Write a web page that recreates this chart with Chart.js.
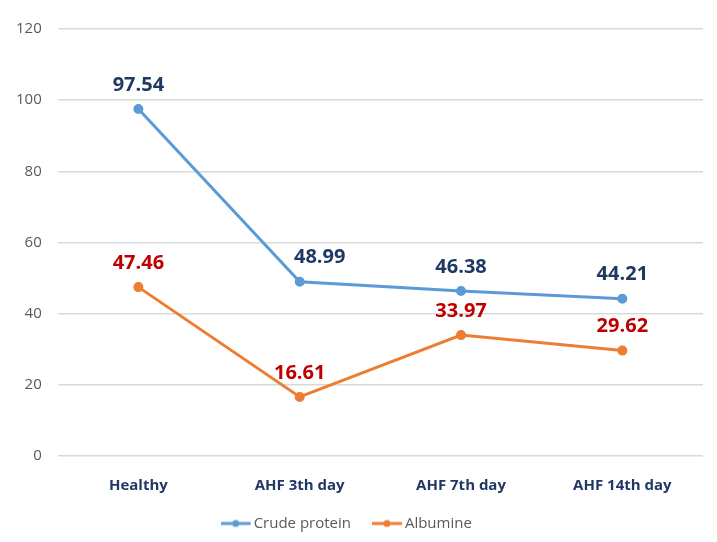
<!DOCTYPE html>
<html>
<head>
<meta charset="utf-8">
<script src="https://cdn.jsdelivr.net/npm/chart.js@4.4.1/dist/chart.umd.min.js"></script>
<style>
  html, body { margin: 0; padding: 0; background: #fff; }
  #wrap { width: 717px; height: 542px; }
</style>
</head>
<body>
<div id="wrap"><canvas id="chart" width="717" height="542"></canvas></div>
<script>
const categories = ['Healthy', 'AHF 3th day', 'AHF 7th day', 'AHF 14th day'];
const crudeProtein = [97.54, 48.99, 46.38, 44.21];
const albumine = [47.46, 16.61, 33.97, 29.62];
const yTicks = [0, 20, 40, 60, 80, 100, 120];

// small line + dot marker for the legend (blank strip on the right = gap before text)
function legendMarker(color) {
    let c = document.createElement('canvas');
    c.width = 36; c.height = 10;
    let g = c.getContext('2d');
    g.strokeStyle = color;
    g.lineWidth = 3;
    g.beginPath(); g.moveTo(0, 5); g.lineTo(30, 5); g.stroke();
    g.fillStyle = color;
    g.beginPath(); g.arc(15, 5, 3.5, 0, Math.PI * 2); g.fill();
    return c;
}

// value labels above every point
const pointLabels = {
    id: 'pointLabels',
    afterDatasetsDraw(chart) {
        let ctx = chart.ctx;
        ctx.save();
        ctx.font = 'bold 20px "Open Sans", sans-serif';
        ctx.textAlign = 'center';
        ctx.textBaseline = 'middle';
        chart.data.datasets.forEach(function (ds, i) {
            let shift = ds.labelShift || {};
            chart.getDatasetMeta(i).data.forEach(function (pt, j) {
                ctx.fillStyle = ds.labelColor;
                ctx.fillText(ds.data[j].toFixed(2), pt.x + (shift[j] || 0), pt.y - 24);
            });
        });
        ctx.restore();
    }
};

var ctx = document.getElementById('chart').getContext('2d');
new Chart(ctx, {
    type: 'line',
    data: {
        labels: categories,
        datasets: [{
            label: 'Crude protein',
            data: crudeProtein,
            borderColor: '#5B9BD5',
            backgroundColor: '#5B9BD5',
            labelColor: '#1F3864',
            labelShift: { 1: 20 },
            borderWidth: 3,
            pointRadius: 3.5,
            pointStyle: 'circle',
            legendMarker: legendMarker('#5B9BD5')
        }, {
            label: 'Albumine',
            data: albumine,
            borderColor: '#ED7D31',
            backgroundColor: '#ED7D31',
            labelColor: '#C00000',
            borderWidth: 3,
            pointRadius: 3.5,
            pointStyle: 'circle',
            legendMarker: legendMarker('#ED7D31')
        }]
    },
    options: {
        responsive: false,
        animation: false,
        layout: { padding: { left: 0, right: 14, top: 29, bottom: 1 } },
        plugins: {
            legend: {
                position: 'bottom',
                labels: {
                    usePointStyle: true,
                    color: '#595959',
                    font: { family: '"Open Sans", sans-serif', size: 15 },
                    padding: 8,
                    generateLabels: function (chart) {
                        return chart.data.datasets.map(function (ds, i) {
                            return {
                                // trailing spaces give the gap between the two entries
                                text: i === 0 ? ds.label + '      ' : ds.label,
                                pointStyle: ds.legendMarker,
                                fillStyle: ds.borderColor,
                                strokeStyle: ds.borderColor,
                                fontColor: '#595959',
                                datasetIndex: i
                            };
                        });
                    }
                }
            },
            tooltip: { enabled: false }
        },
        scales: {
            x: {
                offset: true,
                grid: { display: false },
                border: { display: false },
                ticks: {
                    color: '#1F3864',
                    font: { family: '"Open Sans", sans-serif', size: 15, weight: 'bold' },
                    padding: 13
                }
            },
            y: {
                min: 0,
                max: 120,
                afterBuildTicks: function (axis) {
                    axis.ticks = yTicks.map(function (v) { return { value: v }; });
                },
                grid: { color: '#D9D9D9', lineWidth: 1.5, drawTicks: false },
                border: { display: false },
                ticks: {
                    color: '#595959',
                    font: { family: '"Open Sans", sans-serif', size: 15 },
                    padding: 16
                }
            }
        }
    },
    plugins: [pointLabels]
});
</script>
</body>
</html>
